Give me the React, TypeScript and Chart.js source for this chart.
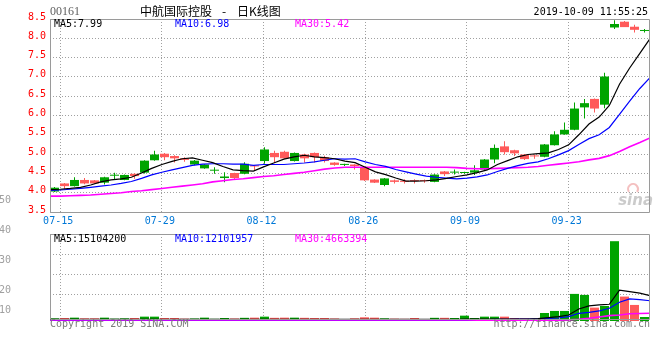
import React, { useEffect, useRef } from 'react';
import { Chart, registerables } from 'chart.js';

Chart.register(...registerables);

// ---------- data ----------
const stockCode = '00161';
const titleName = '中航国际控股';
const titleSuffix = '日K线图';
const timestamp = '2019-10-09 11:55:25';

const tickIndices = [1, 11, 21, 31, 41, 51];
const tickLabels = ['07-15', '07-29', '08-12', '08-26', '09-09', '09-23'];

const opens = [
  4.03, 4.24, 4.17, 4.33, 4.32, 4.26, 4.44, 4.33, 4.49, 4.52,
  4.84, 5.01, 4.95, 4.89, 4.73, 4.63, 4.57, 4.38, 4.51, 4.49,
  4.71, 4.82, 5.03, 5.06, 4.82, 4.99, 5.03, 4.92, 4.78, 4.72,
  4.73, 4.65, 4.34, 4.20, 4.32, 4.31, 4.31, 4.31, 4.28, 4.55,
  4.52, 4.51, 4.52, 4.60, 4.86, 5.20, 5.10, 4.99, 4.96, 4.93,
  5.23, 5.51, 5.63, 6.21, 6.43, 6.28, 8.28, 8.43, 8.30, 8.19,
];
const highs = [
  4.15, 4.25, 4.40, 4.38, 4.33, 4.41, 4.52, 4.47, 4.50, 4.84,
  5.09, 5.03, 4.97, 4.92, 4.85, 4.74, 4.66, 4.53, 4.52, 4.79,
  4.72, 5.18, 5.09, 5.09, 5.04, 5.01, 5.04, 4.96, 4.79, 4.75,
  4.74, 4.66, 4.35, 4.38, 4.34, 4.35, 4.35, 4.34, 4.48, 4.56,
  4.60, 4.54, 4.71, 4.87, 5.25, 5.33, 5.11, 5.00, 4.99, 5.26,
  5.59, 5.82, 6.34, 6.43, 6.44, 7.11, 8.47, 8.45, 8.35, 8.24,
];
const lows = [
  4.02, 4.10, 4.16, 4.22, 4.23, 4.21, 4.35, 4.32, 4.36, 4.50,
  4.83, 4.84, 4.78, 4.80, 4.71, 4.62, 4.49, 4.27, 4.34, 4.48,
  4.56, 4.75, 4.78, 4.88, 4.81, 4.78, 4.78, 4.78, 4.70, 4.69,
  4.60, 4.30, 4.25, 4.17, 4.24, 4.24, 4.24, 4.26, 4.27, 4.43,
  4.47, 4.49, 4.46, 4.58, 4.76, 4.99, 4.95, 4.85, 4.88, 4.92,
  5.22, 5.50, 5.62, 5.92, 6.08, 6.19, 8.24, 8.29, 8.15, 8.15,
];
const closes = [
  4.13, 4.17, 4.33, 4.24, 4.24, 4.40, 4.45, 4.46, 4.43, 4.83,
  4.99, 4.92, 4.89, 4.85, 4.83, 4.73, 4.58, 4.42, 4.38, 4.75,
  4.68, 5.12, 4.92, 4.89, 5.03, 4.89, 4.92, 4.82, 4.72, 4.73,
  4.69, 4.32, 4.26, 4.37, 4.28, 4.28, 4.30, 4.30, 4.47, 4.48,
  4.53, 4.52, 4.58, 4.86, 5.16, 5.05, 5.02, 4.87, 4.94, 5.25,
  5.51, 5.63, 6.18, 6.32, 6.18, 7.01, 8.37, 8.29, 8.22, 8.20,
];
const ma5 = [
  4.08, 4.09, 4.11, 4.14, 4.20, 4.28, 4.33, 4.36, 4.40, 4.51,
  4.63, 4.73, 4.81, 4.88, 4.90, 4.84, 4.78, 4.68, 4.59, 4.57,
  4.56, 4.67, 4.77, 4.87, 4.93, 4.97, 4.93, 4.91, 4.88, 4.82,
  4.78, 4.66, 4.54, 4.47, 4.38, 4.30, 4.30, 4.31, 4.33, 4.37,
  4.42, 4.46, 4.52, 4.59, 4.73, 4.83, 4.93, 4.99, 5.01, 5.03,
  5.12, 5.24, 5.50, 5.78, 5.96, 6.26, 6.81, 7.23, 7.61, 7.99,
];
const ma10 = [
  4.06, 4.07, 4.09, 4.11, 4.14, 4.17, 4.20, 4.24, 4.29, 4.37,
  4.46, 4.53, 4.59, 4.65, 4.71, 4.74, 4.75, 4.75, 4.74, 4.74,
  4.71, 4.73, 4.73, 4.73, 4.75, 4.77, 4.80, 4.84, 4.88, 4.87,
  4.88, 4.80, 4.73, 4.68, 4.60, 4.54, 4.48, 4.43, 4.40, 4.38,
  4.36, 4.38, 4.41, 4.46, 4.55, 4.63, 4.70, 4.76, 4.80, 4.88,
  4.98, 5.09, 5.25, 5.40, 5.50, 5.69, 6.03, 6.37, 6.70, 6.98,
];
const ma30 = [
  3.91, 3.91, 3.92, 3.93, 3.94, 3.96, 3.98, 4.00, 4.03, 4.05,
  4.08, 4.11, 4.14, 4.17, 4.20, 4.23, 4.28, 4.31, 4.34, 4.36,
  4.39, 4.42, 4.44, 4.47, 4.50, 4.53, 4.57, 4.61, 4.64, 4.66,
  4.66, 4.66, 4.66, 4.66, 4.66, 4.66, 4.66, 4.66, 4.66, 4.66,
  4.65, 4.63, 4.62, 4.62, 4.63, 4.64, 4.65, 4.66, 4.68, 4.71,
  4.74, 4.77, 4.80, 4.85, 4.89, 4.96, 5.07, 5.19, 5.30, 5.42,
];
const volumes = [
  1600000, 1800000, 2000000, 1600000, 1600000, 2000000, 1400000, 1600000, 1800000, 2600000,
  2600000, 1800000, 1800000, 1400000, 1500000, 2000000, 1300000, 1800000, 1500000, 1900000,
  2000000, 2600000, 1900000, 2000000, 2000000, 1900000, 1800000, 1800000, 1500000, 1200000,
  1600000, 2200000, 2000000, 1600000, 1400000, 1300000, 1800000, 1200000, 1900000, 1900000,
  1800000, 3200000, 1800000, 2600000, 2600000, 2600000, 1800000, 1600000, 1400000, 4800000,
  6000000, 6000000, 16200000, 15600000, 8000000, 9000000, 47700000, 14600000, 9600000, 2400000,
];
const volMa5 = [
  1000000, 1000000, 1000000, 1000000, 1000000, 1000000, 1000000, 1000000, 1000000, 1000000,
  1000000, 1000000, 1000000, 1000000, 1000000, 1000000, 1000000, 1000000, 1000000, 1000000,
  1000000, 1000000, 1000000, 1000000, 1000000, 1000000, 1000000, 1000000, 1000000, 1000000,
  1000000, 1000000, 1000000, 1000000, 1000000, 1000000, 1000000, 1000000, 1000000, 1000000,
  1000000, 1100000, 1100000, 1200000, 1200000, 1200000, 1200000, 1200000, 1400000, 2000000,
  2600000, 3600000, 7200000, 9000000, 9600000, 10000000, 18500000, 17600000, 16700000, 15104200,
];
const volMa10 = [
  800000, 800000, 800000, 800000, 800000, 800000, 800000, 800000, 800000, 800000,
  800000, 800000, 800000, 800000, 800000, 800000, 800000, 800000, 800000, 800000,
  800000, 800000, 800000, 800000, 800000, 800000, 800000, 800000, 800000, 800000,
  800000, 800000, 800000, 800000, 800000, 800000, 800000, 800000, 800000, 800000,
  800000, 800000, 900000, 900000, 1000000, 1000000, 1100000, 1100000, 1300000, 1600000,
  1800000, 2600000, 4600000, 5200000, 6000000, 7600000, 11200000, 13200000, 12800000, 12101957,
];
const volMa30 = [
  500000, 500000, 500000, 500000, 500000, 500000, 500000, 500000, 500000, 500000,
  500000, 500000, 500000, 500000, 500000, 500000, 500000, 500000, 500000, 500000,
  500000, 500000, 500000, 500000, 500000, 500000, 500000, 500000, 500000, 500000,
  500000, 500000, 500000, 500000, 500000, 500000, 500000, 500000, 500000, 500000,
  500000, 500000, 500000, 500000, 500000, 500000, 500000, 500000, 500000, 500000,
  500000, 700000, 1000000, 1600000, 2400000, 3200000, 3600000, 4300000, 4500000, 4663394,
];
const priceMin = 3.5;
const priceMax = 8.5;
const priceStep = 0.5;
const volumeMax = 52000000;
const volumeGridTicks = [16000000, 28000000, 40000000, 52000000];
const volumeSideLabels = ['50', '40', '30', '20', '10'];
const copyrightText = 'Copyright 2019 SINA.COM';
const siteText = 'http://finance.sina.com.cn';

// ---------- styles ----------
const GREEN = '#00a400';
const RED = '#ff5a5a';
const GRID = '#a0a0a0';
const BORDER = '#9a9a9a';
const MONO = '"DejaVu Sans Mono", monospace';
const C_MA5 = '#000000';
const C_MA10 = '#0000ff';
const C_MA30 = '#ff00ff';

const N = closes.length;
const idx = closes.map((_, i) => i);
const candleColors = closes.map((c, i) => (c >= opens[i] ? GREEN : RED));
const pts = (arr: number[]) => arr.map((v, i) => ({ x: i, y: v }));

function lineDs(label: string, arr: number[], color: string, width: number) {
  return {
    type: 'line' as const,
    label,
    data: pts(arr),
    xAxisID: 'x',
    yAxisID: 'y',
    borderColor: color,
    backgroundColor: color,
    borderWidth: width,
    pointRadius: 0,
    tension: 0,
    fill: false,
    order: 0,
  };
}

function xLineScale(showLabels: boolean, height: number) {
  return {
    type: 'linear',
    position: 'bottom',
    min: 0,
    max: N - 1,
    bounds: 'data',
    offset: false,
    afterBuildTicks: (s: any) => {
      s.ticks = tickIndices.map((v) => ({ value: v }));
    },
    afterFit: (s: any) => {
      s.height = height;
    },
    ticks: {
      display: showLabels,
      autoSkip: false,
      maxRotation: 0,
      minRotation: 0,
      padding: 3,
      labelOffset: -2,
      color: '#0078d7',
      font: { family: MONO, size: 10 },
      callback: (v: any) => {
        const j = tickIndices.indexOf(Number(v));
        return j >= 0 ? tickLabels[j] : '';
      },
    },
    grid: { color: GRID, lineWidth: 1, drawTicks: false, offset: false },
    border: { display: false, dash: [1, 2] },
  };
}

const xCandleScale = {
  type: 'linear',
  display: false,
  min: -0.45,
  max: N - 0.45,
  bounds: 'data',
  offset: false,
  grid: { offset: false },
};

function drawFrame(ctx: CanvasRenderingContext2D, a: any, bottomLine?: number) {
  ctx.save();
  ctx.strokeStyle = BORDER;
  ctx.lineWidth = 1;
  const l = Math.round(a.left) + 0.5;
  const r = Math.round(a.right) - 0.5;
  const t = Math.round(a.top) + 0.5;
  const b = bottomLine !== undefined ? bottomLine + 0.5 : Math.round(a.bottom) + 0.5;
  ctx.beginPath();
  ctx.moveTo(l, b);
  ctx.lineTo(l, t);
  ctx.lineTo(r, t);
  ctx.lineTo(r, b);
  ctx.moveTo(l, b);
  ctx.lineTo(r, b);
  ctx.stroke();
  ctx.restore();
}

const pricePlugin = {
  id: 'priceDecor',
  beforeDatasetsDraw(chart: any) {
    const ctx: CanvasRenderingContext2D = chart.ctx;
    const a = chart.chartArea;
    ctx.save();
    ctx.font = 'italic bold 15px "DejaVu Sans"';
    ctx.fillStyle = 'rgba(185,185,185,0.75)';
    ctx.textAlign = 'right';
    ctx.textBaseline = 'alphabetic';
    ctx.fillText('sina', a.right + 3, a.bottom - 7);
    ctx.strokeStyle = 'rgba(235,140,140,0.55)';
    ctx.lineWidth = 2;
    ctx.beginPath();
    ctx.arc(a.right - 17, a.bottom - 23, 5, Math.PI * 0.8, Math.PI * 2.2);
    ctx.stroke();
    ctx.restore();
  },
  afterDraw(chart: any) {
    const ctx: CanvasRenderingContext2D = chart.ctx;
    const a = chart.chartArea;
    drawFrame(ctx, a);
    ctx.save();
    ctx.textBaseline = 'middle';
    ctx.textAlign = 'left';
    ctx.font = '12px "Liberation Serif"';
    ctx.fillStyle = '#606060';
    ctx.fillText(stockCode, 50, 12);
    ctx.font = '12px "Noto Sans CJK SC"';
    ctx.fillStyle = '#000';
    ctx.fillText(titleName, 140, 11);
    ctx.fillText('-', 222, 11);
    ctx.fillText(titleSuffix, 237, 11);
    ctx.font = `10px ${MONO}`;
    ctx.textAlign = 'right';
    ctx.fillText(timestamp, 648, 12);
    ctx.textAlign = 'left';
    ctx.fillStyle = C_MA5;
    ctx.fillText('MA5:' + ma5[N - 1].toFixed(2), 54, 24);
    ctx.fillStyle = C_MA10;
    ctx.fillText('MA10:' + ma10[N - 1].toFixed(2), 175, 24);
    ctx.fillStyle = C_MA30;
    ctx.fillText('MA30:' + ma30[N - 1].toFixed(2), 295, 24);
    ctx.restore();
  },
};

const volumePlugin = {
  id: 'volumeDecor',
  afterDatasetsDraw(chart: any) {
    const ctx: CanvasRenderingContext2D = chart.ctx;
    const a = chart.chartArea;
    drawFrame(ctx, a, Math.round(a.bottom) - 2);
  },
  afterDraw(chart: any) {
    const ctx: CanvasRenderingContext2D = chart.ctx;
    const a = chart.chartArea;
    ctx.save();
    ctx.textBaseline = 'middle';
    ctx.font = `10px ${MONO}`;
    ctx.textAlign = 'left';
    ctx.fillStyle = C_MA5;
    ctx.fillText('MA5:' + Math.round(volMa5[N - 1]), 54, a.top + 5);
    ctx.fillStyle = C_MA10;
    ctx.fillText('MA10:' + Math.round(volMa10[N - 1]), 175, a.top + 5);
    ctx.fillStyle = C_MA30;
    ctx.fillText('MA30:' + Math.round(volMa30[N - 1]), 295, a.top + 5);
    // side labels
    ctx.fillStyle = '#a0a0a0';
    ctx.textAlign = 'right';
    const ys = [a.top - 34, a.top - 4, a.top + 26, a.top + 56, a.top + 76];
    volumeSideLabels.forEach((t, i) => ctx.fillText(t, 11, ys[i]));
    // footer
    ctx.fillStyle = '#7a7a7a';
    ctx.textAlign = 'left';
    ctx.fillText(copyrightText, 50, a.bottom + 3.5);
    ctx.textAlign = 'right';
    ctx.fillText(siteText, 650, a.bottom + 3.5);
    ctx.restore();
  },
};

function priceConfig(): any {
  return {
    type: 'bar',
    data: {
      datasets: [
        lineDs('MA5', ma5, C_MA5, 1.2),
        lineDs('MA10', ma10, C_MA10, 1.2),
        lineDs('MA30', ma30, C_MA30, 1.6),
        {
          type: 'bar',
          label: 'wick',
          data: idx.map((i) => ({ x: i, y: [lows[i], highs[i]] })),
          xAxisID: 'xc',
          yAxisID: 'y',
          backgroundColor: candleColors,
          borderWidth: 0,
          barThickness: 1,
          grouped: false,
          inflateAmount: 0,
          order: 2,
        },
        {
          type: 'bar',
          label: 'body',
          data: idx.map((i) => ({ x: i, y: [opens[i], closes[i]] })),
          xAxisID: 'xc',
          yAxisID: 'y',
          backgroundColor: candleColors,
          borderWidth: 0,
          barThickness: 9,
          minBarLength: 1,
          grouped: false,
          inflateAmount: 0,
          order: 1,
        },
      ],
    },
    options: {
      animation: false,
      responsive: false,
      events: [],
      layout: { padding: { left: 0, right: 10, top: 19, bottom: 0 } },
      plugins: { legend: { display: false }, tooltip: { enabled: false } },
      scales: {
        x: xLineScale(true, 18),
        xc: xCandleScale,
        y: {
          type: 'linear',
          position: 'left',
          min: priceMin,
          max: priceMax,
          bounds: 'data',
          afterFit: (s: any) => {
            s.width = 50;
          },
          ticks: {
            stepSize: priceStep,
            padding: 4,
            labelOffset: -2,
            color: '#ff0000',
            font: { family: MONO, size: 10 },
            callback: (v: any) => Number(v).toFixed(1),
          },
          grid: { color: GRID, lineWidth: 1, drawTicks: false },
          border: { display: false, dash: [1, 2] },
        },
      },
    },
    plugins: [pricePlugin],
  };
}

function volumeConfig(): any {
  return {
    type: 'bar',
    data: {
      datasets: [
        lineDs('MA5', volMa5, C_MA5, 1.2),
        lineDs('MA10', volMa10, C_MA10, 1.2),
        lineDs('MA30', volMa30, C_MA30, 1.6),
        {
          type: 'bar',
          label: 'volume',
          data: idx.map((i) => ({ x: i, y: volumes[i] })),
          xAxisID: 'xc',
          yAxisID: 'y',
          backgroundColor: candleColors,
          borderWidth: 0,
          barThickness: 9,
          grouped: false,
          inflateAmount: 0,
          order: 1,
        },
      ],
    },
    options: {
      animation: false,
      responsive: false,
      events: [],
      layout: { padding: { left: 0, right: 10, top: 44, bottom: 39 } },
      plugins: { legend: { display: false }, tooltip: { enabled: false } },
      scales: {
        x: xLineScale(false, 0),
        xc: xCandleScale,
        y: {
          type: 'linear',
          position: 'left',
          min: 0,
          max: volumeMax,
          bounds: 'data',
          afterBuildTicks: (s: any) => {
            s.ticks = volumeGridTicks.map((v) => ({ value: v }));
          },
          afterFit: (s: any) => {
            s.width = 50;
          },
          ticks: { display: false },
          grid: { color: GRID, lineWidth: 1, drawTicks: false },
          border: { display: false, dash: [1, 2] },
        },
      },
    },
    plugins: [volumePlugin],
  };
}

export default function App() {
  const priceRef = useRef<HTMLCanvasElement>(null);
  const volRef = useRef<HTMLCanvasElement>(null);

  useEffect(() => {
    const c1 = new Chart(priceRef.current as HTMLCanvasElement, priceConfig());
    const c2 = new Chart(volRef.current as HTMLCanvasElement, volumeConfig());
    return () => {
      c1.destroy();
      c2.destroy();
    };
  }, []);

  return (
    <div
      style={{
        position: 'absolute',
        left: 0,
        top: 0,
        width: 660,
        height: 360,
        background: '#ffffff',
        overflow: 'hidden',
      }}
    >
      <canvas
        ref={priceRef}
        width={660}
        height={230}
        style={{ position: 'absolute', left: 0, top: 0, width: 660, height: 230 }}
      />
      <canvas
        ref={volRef}
        width={660}
        height={170}
        style={{ position: 'absolute', left: 0, top: 190, width: 660, height: 170 }}
      />
    </div>
  );
}
